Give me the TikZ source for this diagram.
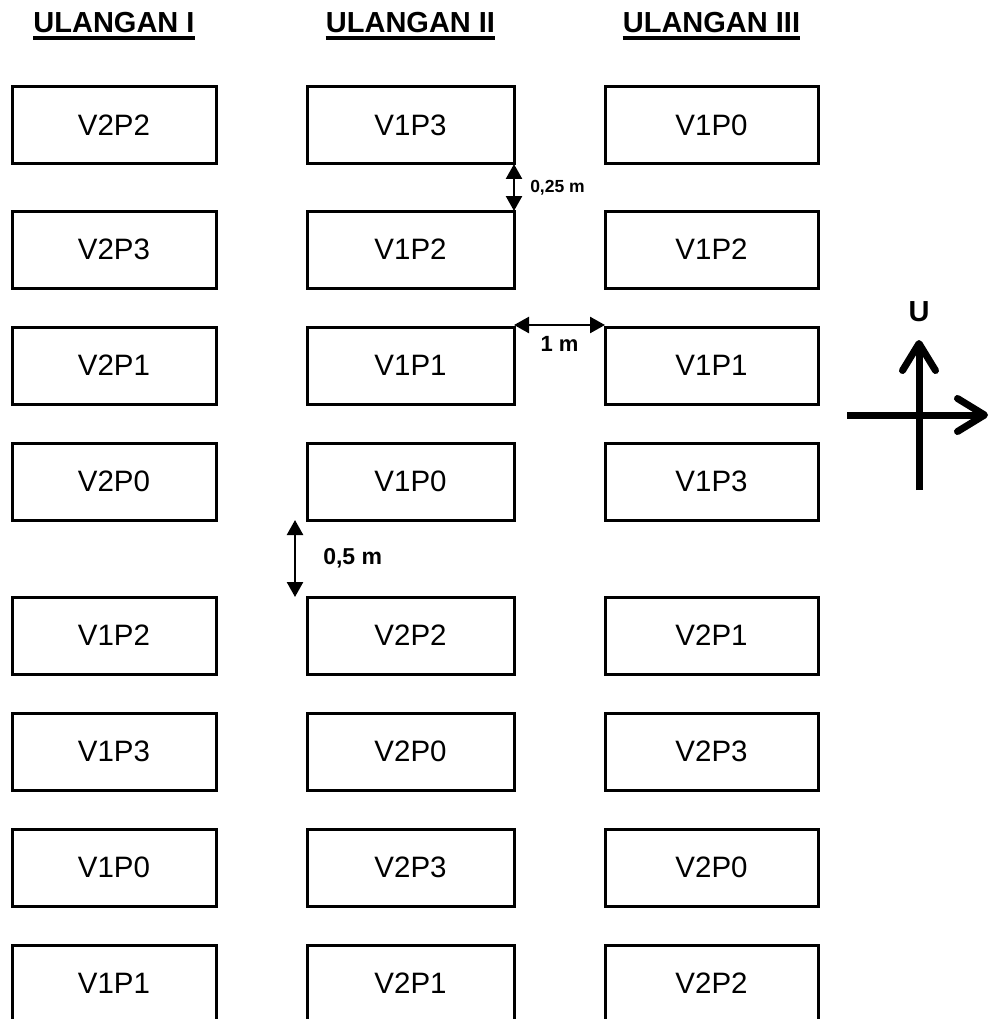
\documentclass[tikz,border=0pt]{standalone}
\usepackage{fontspec}
\setmainfont{Liberation Sans}
\usepackage{tikz}
\usetikzlibrary{arrows.meta,positioning}

\begin{document}
\begin{tikzpicture}[
  x=1pt,y=-1pt,
  font=\fontsize{29.5}{35}\selectfont,
  node distance=39pt and 91pt,
  plot/.style={draw,line width=3pt,minimum height=77pt,inner sep=0pt,outer sep=0pt},
  plotA/.style={plot,minimum width=204pt},
  plotB/.style={plot,minimum width=207pt},
  plotC/.style={plot,minimum width=213pt},
  head/.style={font=\fontsize{29}{34}\selectfont\bfseries,inner sep=0pt,anchor=base},
  uline/.style={line width=3.2pt},
  dim/.style={{Triangle[length=15pt,width=16pt]}-{Triangle[length=15pt,width=16pt]},line width=2.5pt},
  lbl/.style={inner sep=0pt},
  compass/.style={-{Straight Barb[length=27pt,width=33pt,round]},line width=7pt}
]
\useasboundingbox (0,0) rectangle (990,1019);

% headers
\node[head] (h1) at (114,33) {ULANGAN I};
\node[head] (h2) at (410.5,33) {ULANGAN II};
\node[head] (h3) at (711.5,33) {ULANGAN III};
\draw[uline] ([yshift=-5pt]h1.base west) -- ([yshift=-5pt]h1.base east);
\draw[uline] ([yshift=-5pt]h2.base west) -- ([yshift=-5pt]h2.base east);
\draw[uline] ([yshift=-5pt]h3.base west) -- ([yshift=-5pt]h3.base east);

% ulangan I
\node[plotA] (a1) at (114,125.5) {V2P2};
\node[plotA,below=47pt of a1] (a2) {V2P3};
\node[plotA,below=of a2] (a3) {V2P1};
\node[plotA,below=of a3] (a4) {V2P0};
\node[plotA,below=77pt of a4] (a5) {V1P2};
\node[plotA,below=of a5] (a6) {V1P3};
\node[plotA,below=of a6] (a7) {V1P0};
\node[plotA,below=of a7] (a8) {V1P1};

% ulangan II
\node[plotB,right=of a1] (b1) {V1P3};
\node[plotB,below=47pt of b1] (b2) {V1P2};
\node[plotB,below=of b2] (b3) {V1P1};
\node[plotB,below=of b3] (b4) {V1P0};
\node[plotB,below=77pt of b4] (b5) {V2P2};
\node[plotB,below=of b5] (b6) {V2P0};
\node[plotB,below=of b6] (b7) {V2P3};
\node[plotB,below=of b7] (b8) {V2P1};

% ulangan III
\node[plotC,right=of b1] (c1) {V1P0};
\node[plotC,below=47pt of c1] (c2) {V1P2};
\node[plotC,below=of c2] (c3) {V1P1};
\node[plotC,below=of c3] (c4) {V1P3};
\node[plotC,below=77pt of c4] (c5) {V2P1};
\node[plotC,below=of c5] (c6) {V2P3};
\node[plotC,below=of c6] (c7) {V2P0};
\node[plotC,below=of c7] (c8) {V2P2};

% jarak
\draw[dim] (b1.south east) -- node[lbl,right=15pt,font=\fontsize{17.5}{20}\selectfont\bfseries] {0,25 m} (b2.north east);
\draw[dim] ([yshift=2pt]b3.north east) -- node[lbl,below=10pt,font=\fontsize{22}{26}\selectfont\bfseries] {1 m} ([yshift=2pt]c3.north west);
\coordinate (g1) at ([xshift=-12pt]b4.south west);
\coordinate (g2) at ([xshift=-12pt]b5.north west);
\draw[dim] (g1) -- node[lbl,right=27pt,font=\fontsize{23}{27}\selectfont\bfseries] {0,5 m} (g2);

% arah utara
\coordinate (nTip) at (919,340);
\coordinate (sEnd) at (919,490);
\coordinate (wEnd) at (847,415);
\coordinate (eTip) at (988,415);
\draw[compass] (sEnd) -- (nTip);
\draw[compass] (wEnd) -- (eTip);
\node[head,anchor=center] (u) at (919,312) {U};
\end{tikzpicture}
\end{document}
